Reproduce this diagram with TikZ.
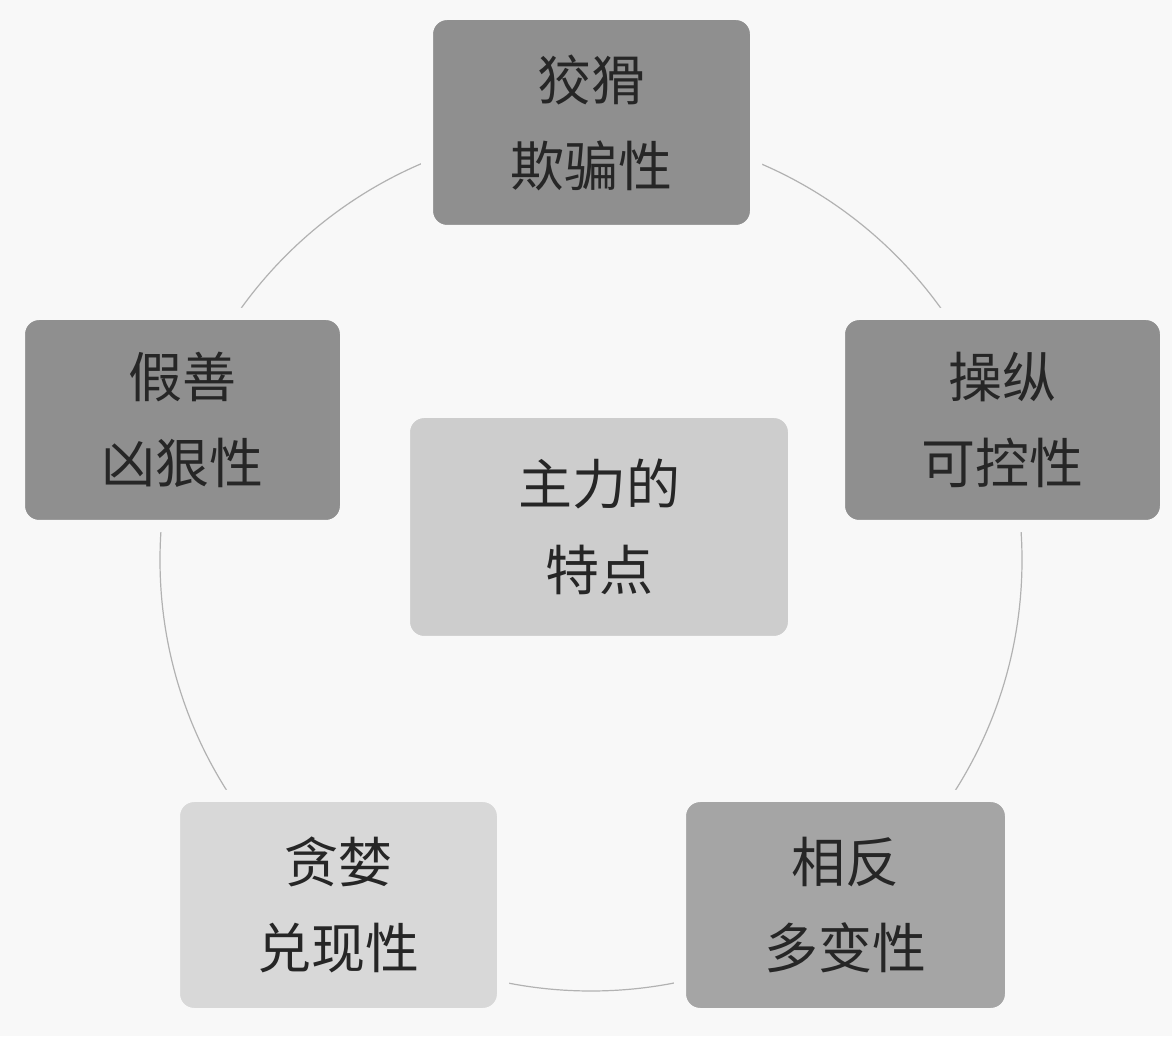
\documentclass[tikz,border=0pt]{standalone}
\usepackage{fontspec}
\newfontfamily\cjk{Noto Sans CJK SC}[FakeBold=0]
\begin{document}
\begin{tikzpicture}[x=1pt,y=1pt,
  box/.style={rounded corners=20pt,draw=bg,line width=12pt,align=center,font=\cjk\fontsize{54}{86}\selectfont,text=black!85,inner sep=0pt},
  dark/.style={box,fill=dk},
  light/.style={box,fill=lt}]
\definecolor{bg}{HTML}{F8F8F8}
\definecolor{dk}{HTML}{8F8F8F}
\definecolor{lt}{HTML}{D8D8D8}
\fill[bg] (0,0) rectangle (1172,1036);
\useasboundingbox (0,0) rectangle (1172,1036);
\coordinate (c) at (591,476);
\draw[gray!60,line width=1.2pt] (c) circle (431);
\node[dark,minimum width=329,minimum height=217] (top) at (591.5,913.5) {狡猾\\欺骗性};
\node[dark,minimum width=327,minimum height=212] (right) at (1002.5,616) {操纵\\可控性};
\node[dark,minimum width=327,minimum height=212] (left) at (182.5,616) {假善\\凶狠性};
\node[light,fill=lt!95!black,minimum width=390,minimum height=230] (center) at (599,509) {主力的\\特点};
\node[light,minimum width=329,minimum height=218] (bl) at (338.5,131) {贪婪\\兑现性};
\node[dark,fill=dk!80!white,minimum width=331,minimum height=218] (br) at (845.5,131) {相反\\多变性};
\end{tikzpicture}
\end{document}
